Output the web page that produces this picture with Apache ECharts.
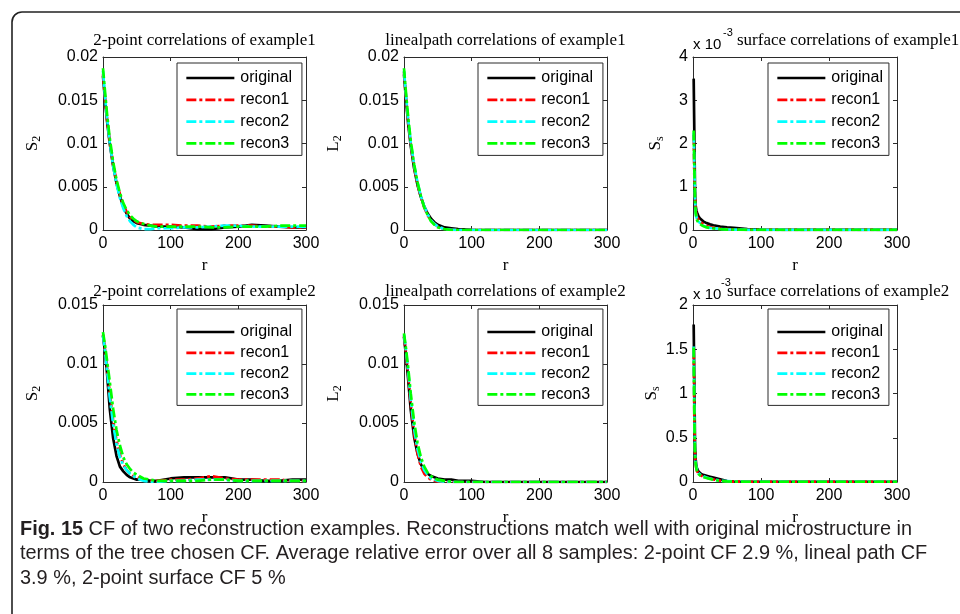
<!DOCTYPE html>
<html><head><meta charset="utf-8">
<script src="https://cdn.jsdelivr.net/npm/echarts/dist/echarts.min.js"></script>
<style>html,body{margin:0;padding:0;background:#fff}#c{width:960px;height:614px}</style>
</head><body><div id="c"></div>
<script>
// ---------- data ----------
const seriesNames = ['original', 'recon1', 'recon2', 'recon3'];
const xTicks = [0, 100, 200, 300];
// lag distance r for 2-point and lineal-path functions
const r2 = [0,3,6,10,15,20,25,30,35,40,45,50,60,70,80,100,120,140,160,180,200,220,240,260,280,300];
// lag distance r for surface correlations
const rS = [1,2,3,4,5,6,8,10,12,15,20,25,30,40,50,60,80,100,150,200,250,300];

// 2-point correlations, example 1
const s2e1Orig = [0.0178,0.0150,0.0126,0.0100,0.0074,0.0054,0.0039,0.0027,0.0019,0.0013,0.0010,0.0008,0.0006,0.0005,0.0004,0.0004,0.0003,0.0001,0.0001,0.0003,0.0004,0.0006,0.0005,0.0004,0.0003,0.0003];
const s2e1R1   = [0.0180,0.0152,0.0128,0.0102,0.0076,0.0056,0.0041,0.0029,0.0021,0.0015,0.0012,0.0009,0.0007,0.0006,0.0006,0.0006,0.0005,0.0005,0.0004,0.0005,0.0005,0.0005,0.0004,0.0004,0.0003,0.0003];
const s2e1R2   = [0.0184,0.0154,0.0129,0.0101,0.0074,0.0053,0.0037,0.0025,0.0016,0.0010,0.0006,0.0003,0.0001,0.0001,0.0002,0.0002,0.0003,0.0003,0.0004,0.0005,0.0005,0.0004,0.0004,0.0004,0.0004,0.0004];
const s2e1R3   = [0.0187,0.0160,0.0134,0.0106,0.0079,0.0058,0.0043,0.0031,0.0023,0.0017,0.0013,0.0010,0.0007,0.0005,0.0004,0.0004,0.0004,0.0004,0.0003,0.0003,0.0004,0.0004,0.0004,0.0005,0.0005,0.0005];
// lineal-path correlations, example 1
const l2e1Orig = [0.0180,0.0150,0.0124,0.0097,0.0071,0.0052,0.0038,0.0027,0.0019,0.0013,0.0009,0.0006,0.0003,0.0002,0.0001,0.00003,0,0,0,0,0,0,0,0,0,0];
const l2e1R1   = [0.0183,0.0153,0.0127,0.0099,0.0073,0.0053,0.0038,0.0026,0.0017,0.0011,0.0007,0.0004,0.0001,0.00003,0,0,0,0,0,0,0,0,0,0,0,0];
const l2e1R2   = [0.0184,0.0155,0.0129,0.0101,0.0075,0.0055,0.0039,0.0027,0.0018,0.0011,0.0007,0.0004,0.0001,0.00003,0,0,0,0,0,0,0,0,0,0,0,0];
const l2e1R3   = [0.0187,0.0158,0.0132,0.0103,0.0076,0.0055,0.0039,0.0026,0.0017,0.0010,0.0006,0.0003,0.0001,0,0,0,0,0,0,0,0,0,0,0,0,0];
// surface correlations, example 1 (units of 10^-3)
const sse1Orig = [3.5,2.2,0.85,0.55,0.45,0.40,0.32,0.27,0.24,0.20,0.16,0.13,0.11,0.08,0.06,0.05,0.02,0.01,0.005,0.005,0.005,0.005];
const sse1R1   = [2.2,1.2,0.80,0.45,0.35,0.30,0.24,0.20,0.17,0.13,0.09,0.07,0.05,0.03,0.02,0.01,0.005,0.005,0.005,0.005,0.005,0.005];
const sse1R2   = [2.25,1.5,0.75,0.40,0.30,0.25,0.20,0.16,0.13,0.10,0.07,0.05,0.04,0.025,0.015,0.01,0.005,0.005,0.005,0.005,0.005,0.005];
const sse1R3   = [2.3,1.4,0.70,0.38,0.28,0.22,0.17,0.14,0.12,0.09,0.06,0.045,0.035,0.02,0.01,0.008,0.005,0.005,0.005,0.005,0.005,0.005];

// 2-point correlations, example 2
const s2e2Orig = [0.0124,0.0110,0.0092,0.0062,0.0037,0.0022,0.0013,0.0009,0.0006,0.0004,0.0003,0.0002,0.0002,0.0001,0.0001,0.0003,0.0004,0.0004,0.0004,0.0004,0.0002,0.0002,0.0001,0.0001,0.0002,0.0002];
const s2e2R1   = [0.0125,0.0112,0.0097,0.0075,0.0052,0.0035,0.0023,0.0015,0.0010,0.0007,0.0005,0.0004,0.0002,0.0001,0.0001,0.0002,0.0002,0.0003,0.0005,0.0003,0.0002,0.0002,0.0002,0.0002,0.0001,0.0001];
const s2e2R2   = [0.0124,0.0111,0.0095,0.0072,0.0049,0.0032,0.0021,0.0014,0.0010,0.0007,0.0005,0.0003,0.0001,0.0000,0.0000,0.0001,0.0001,0.0002,0.0002,0.0002,0.0001,0.0001,0.0001,0.0001,0.0001,0.0001];
const s2e2R3   = [0.0127,0.0116,0.0103,0.0085,0.0062,0.0044,0.0031,0.0021,0.0015,0.0011,0.0008,0.0006,0.0003,0.0002,0.0001,0.0001,0.0001,0.0001,0.0002,0.0002,0.0001,0.0001,0.0001,0.0001,0.0001,0.0001];
// lineal-path correlations, example 2
const l2e2Orig = [0.0123,0.0107,0.0088,0.0061,0.0038,0.0024,0.0015,0.0010,0.0007,0.0005,0.0004,0.0003,0.0002,0.0002,0.0001,0.0001,0,0,0,0,0,0,0,0,0,0];
const l2e2R1   = [0.0124,0.0109,0.0092,0.0066,0.0041,0.0024,0.0013,0.0007,0.0004,0.0002,0.0001,0.00005,0,0,0,0,0,0,0,0,0,0,0,0,0,0];
const l2e2R2   = [0.0125,0.0111,0.0095,0.0070,0.0045,0.0028,0.0017,0.0010,0.0006,0.0003,0.0002,0.0001,0.00003,0,0,0,0,0,0,0,0,0,0,0,0,0];
const l2e2R3   = [0.0126,0.0113,0.0098,0.0075,0.0051,0.0033,0.0021,0.0013,0.0008,0.0005,0.0003,0.0002,0.0001,0.00003,0,0,0,0,0,0,0,0,0,0,0,0];
// surface correlations, example 2 (units of 10^-3)
const sse2Orig = [1.78,1.1,0.40,0.25,0.18,0.15,0.12,0.10,0.09,0.08,0.07,0.06,0.05,0.03,0.01,0.005,0.003,0.003,0.003,0.003,0.003,0.003];
const sse2R1   = [1.5,0.70,0.30,0.20,0.15,0.12,0.10,0.08,0.07,0.06,0.05,0.04,0.03,0.015,0.008,0.005,0.003,0.003,0.003,0.003,0.003,0.003];
const sse2R2   = [1.53,0.75,0.32,0.22,0.16,0.13,0.10,0.085,0.075,0.065,0.05,0.04,0.03,0.015,0.01,0.005,0.003,0.003,0.003,0.003,0.003,0.003];
const sse2R3   = [1.52,0.72,0.30,0.20,0.15,0.12,0.09,0.075,0.065,0.055,0.045,0.035,0.025,0.012,0.006,0.004,0.003,0.003,0.003,0.003,0.003,0.003];

const titles = ['2-point correlations of example1','linealpath correlations of example1','surface correlations of example1',
                '2-point correlations of example2','linealpath correlations of example2','surface correlations of example2'];
const yTickSets = [[0,0.005,0.01,0.015,0.02],[0,0.005,0.01,0.015,0.02],[0,1,2,3,4],
                   [0,0.005,0.01,0.015],[0,0.005,0.01,0.015],[0,0.5,1,1.5,2]];
const yNames = [['S','2'],['L','2'],['S','s'],['S','2'],['L','2'],['S','s']];
const captionLines = [
  ['Fig. 15', ' CF of two reconstruction examples. Reconstructions match well with original microstructure in'],
  ['', 'terms of the tree chosen CF. Average relative error over all 8 samples: 2-point CF 2.9 %, lineal path CF'],
  ['', '3.9 %, 2-point surface CF 5 %']
];

const panels = [
  {r: r2, d: [s2e1Orig, s2e1R1, s2e1R2, s2e1R3]},
  {r: r2, d: [l2e1Orig, l2e1R1, l2e1R2, l2e1R3]},
  {r: rS, d: [sse1Orig, sse1R1, sse1R2, sse1R3]},
  {r: r2, d: [s2e2Orig, s2e2R1, s2e2R2, s2e2R3]},
  {r: r2, d: [l2e2Orig, l2e2R1, l2e2R2, l2e2R3]},
  {r: rS, d: [sse2Orig, sse2R1, sse2R2, sse2R3]}
];

// ---------- layout / style ----------
const cols = [{left:103, width:203}, {left:404, width:203}, {left:693, width:204}];
const rows = [{top:57, height:173}, {top:305, height:177}];
const colors = ['#000000', '#ff0000', '#00ffff', '#00ff00'];
const dashDot = [10, 3, 3, 3];
const sans = '"Liberation Sans", Arial, sans-serif';
const serif = '"Liberation Serif", "Times New Roman", serif';
const axisCol = '#2b2b2b';

const grid = [], xAxis = [], yAxis = [], series = [], legend = [], title = [];
for (let i = 0; i < 6; i++) {
  const c = cols[i % 3], rw = rows[Math.floor(i / 3)];
  grid.push({left: c.left, top: rw.top, width: c.width, height: rw.height, outerBoundsMode: 'none', containLabel: false});
  const yt = yTickSets[i];
  const ymin = yt[0], ymax = yt[yt.length - 1], yint = yt[1] - yt[0];
  const tick = {show: true, inside: true, length: 4, lineStyle: {color: axisCol}};
  const line = {show: true, onZero: false, lineStyle: {color: axisCol, width: 1}};
  xAxis.push({type: 'value', gridIndex: i, position: 'bottom', min: xTicks[0], max: xTicks[xTicks.length-1], interval: xTicks[1]-xTicks[0],
    axisLine: line, axisTick: tick, splitLine: {show: false},
    axisLabel: {color: '#000', fontFamily: sans, fontSize: 16, margin: 6},
    name: 'r', nameLocation: 'middle', nameGap: 27,
    nameTextStyle: {fontFamily: serif, fontSize: 17, color: '#000'}});
  xAxis.push({type: 'value', gridIndex: i, position: 'top', min: xTicks[0], max: xTicks[xTicks.length-1], interval: xTicks[1]-xTicks[0],
    axisLine: line, axisTick: tick, splitLine: {show: false}, axisLabel: {show: false}});
  const yn = yNames[i];
  yAxis.push({type: 'value', gridIndex: i, position: 'left', min: ymin, max: ymax, interval: yint,
    axisLine: line, axisTick: tick, splitLine: {show: false},
    axisLabel: {color: '#000', fontFamily: sans, fontSize: 16, margin: 5, formatter: v => String(+v.toFixed(6))},
    name: '{s|' + yn[0] + '}{b|' + yn[1] + '}', nameLocation: 'middle', nameGap: (i % 3 === 2) ? 27 : 60,
    nameTextStyle: {rich: {
      s: {fontFamily: serif, fontSize: 17, color: '#000'},
      b: {fontFamily: serif, fontSize: 12, color: '#000', padding: [9, 0, 0, 0]}
    }}});
  yAxis.push({type: 'value', gridIndex: i, position: 'right', min: ymin, max: ymax, interval: yint,
    axisLine: line, axisTick: tick, splitLine: {show: false}, axisLabel: {show: false}});

  const p = panels[i];
  for (let k = 0; k < 4; k++) {
    series.push({
      type: 'line', name: seriesNames[k], xAxisIndex: 2*i, yAxisIndex: 2*i,
      data: p.r.map((x, j) => [x, p.d[k][j]]),
      symbol: 'none', showSymbol: false, smooth: false, animation: false, silent: true,
      lineStyle: {color: colors[k], width: 2.7, type: k === 0 ? 'solid' : dashDot},
      itemStyle: {color: colors[k]}, z: 2 + k
    });
  }
  const rowIdx = Math.floor(i / 3);
  const lgLeft = [177, 478, 768][i % 3];
  legend.push({
    data: seriesNames, orient: 'vertical', left: lgLeft, top: rowIdx === 0 ? 63 : 309,
    itemWidth: 48, itemHeight: 14, itemGap: rowIdx === 0 ? 5.8 : 4.8,
    padding: rowIdx === 0 ? [7, (i%3===2)?6:10, 4, 8] : [15, (i%3===2)?6:10, 3, 8],
    borderColor: axisCol, borderWidth: 1, backgroundColor: '#fff', selectedMode: false,
    itemStyle: {opacity: 0, borderWidth: 0},
    lineStyle: {width: 2.7},
    textStyle: {fontFamily: sans, fontSize: 16, color: '#000', padding: [0, 0, 0, 1]}
  });
  const isS = (i % 3 === 2);
  title.push({
    text: titles[i], padding: 0,
    left: isS ? (rowIdx === 0 ? 737 : 727) : c.left + c.width / 2,
    textAlign: isS ? 'left' : 'center',
    top: rowIdx === 0 ? 32 : 283,
    textStyle: {fontFamily: serif, fontSize: 17, fontWeight: 'normal', color: '#000'}
  });
}

// caption scaling (condensed look)
const capFont = 20.5;
const ctx = document.createElement('canvas').getContext('2d');
ctx.font = 'bold ' + capFont + 'px "Liberation Sans"';
const wb = ctx.measureText(captionLines[0][0]).width;
ctx.font = capFont + 'px "Liberation Sans"';
const wr = ctx.measureText(captionLines[0][1]).width;
const sx = 892 / (wb + wr);

const graphic = [
  {type: 'rect', shape: {x: 12, y: 12, width: 1000, height: 700, r: 10}, style: {fill: 'none', stroke: '#222', lineWidth: 1.6}, z: 0, silent: true},
  {type: 'text', x: 693, y: 45, style: {text: 'x 10', fontFamily: sans, fontSize: 15, fill: '#000', verticalAlign: 'middle'}},
  {type: 'text', x: 723, y: 33, style: {text: '-3', fontFamily: sans, fontSize: 11, fill: '#000', verticalAlign: 'middle'}},
  {type: 'text', x: 693, y: 295, style: {text: 'x 10', fontFamily: sans, fontSize: 15, fill: '#000', verticalAlign: 'middle'}},
  {type: 'text', x: 721, y: 283, style: {text: '-3', fontFamily: sans, fontSize: 11, fill: '#000', verticalAlign: 'middle'}}
];
const capY = [529, 553.5, 578];
captionLines.forEach((ln, idx) => {
  graphic.push({type: 'text', x: 20, y: capY[idx], scaleX: sx, originX: 0,
    style: {text: (ln[0] ? '{b|' + ln[0] + '}' : '') + ln[1], fontFamily: sans, fontSize: capFont, fill: '#231f20', verticalAlign: 'middle',
      rich: {b: {fontFamily: sans, fontSize: capFont, fontWeight: 'bold', fill: '#231f20'}}}});
});

const chart = echarts.init(document.getElementById('c'), null, {renderer: 'canvas'});
chart.setOption({
  animation: false, backgroundColor: '#fff',
  grid, xAxis, yAxis, series, legend, title, graphic
});
</script></body></html>
